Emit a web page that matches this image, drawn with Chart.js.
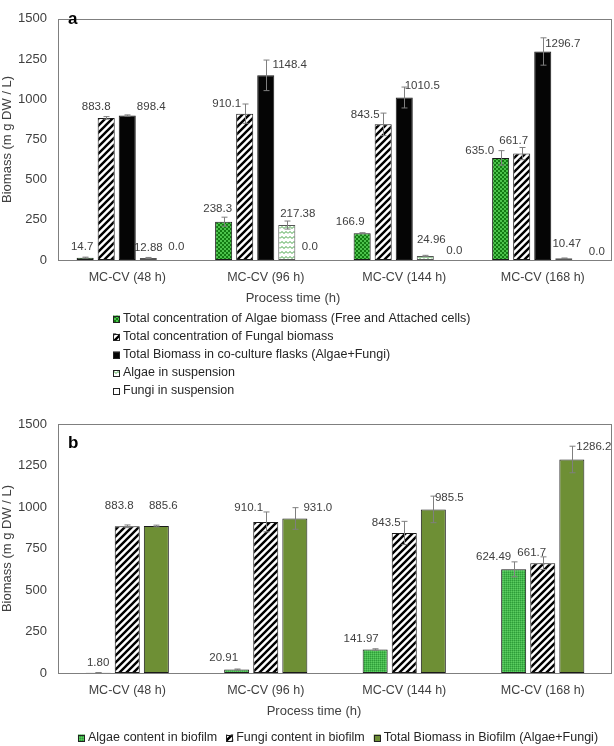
<!DOCTYPE html>
<html><head><meta charset="utf-8">
<script src="https://cdn.jsdelivr.net/npm/chart.js@4/dist/chart.umd.min.js"></script>
<style>
html,body{margin:0;padding:0;background:#fff;}
#wa{position:absolute;left:0;top:0;width:614px;height:400px;}
#wb{position:absolute;left:0;top:400px;width:614px;height:346px;}
canvas{display:block;}
</style></head><body>
<div id="wa"><canvas id="ca" width="614" height="400"></canvas></div>
<div id="wb"><canvas id="cb" width="614" height="346"></canvas></div>
<script>
// ---------- DATA ----------
const categories = ['MC-CV (48 h)', 'MC-CV (96 h)', 'MC-CV (144 h)', 'MC-CV (168 h)'];
const yMin = 0, yMax = 1500, yStep = 250;

// Panel a
const algaeTotal      = [14.7, 238.3, 166.9, 635.0];
const algaeTotalErr   = [3, 28, 3, 45];
const fungalTotal     = [883.8, 910.1, 843.5, 661.7];
const fungalTotalErr  = [8, 60, 70, 38];
const coCulture       = [898.4, 1148.4, 1010.5, 1296.7];
const coCultureErr    = [4, 95, 65, 85];
const algaeSusp       = [12.88, 217.38, 24.96, 10.47];
const algaeSuspErr    = [3, 25, 4, 2];
const fungiSusp       = [0, 0, 0, 0];
const fungiSuspErr    = [0, 0, 0, 0];

// Panel b
const algaeBiofilm     = [1.80, 20.91, 141.97, 624.49];
const algaeBiofilmErr  = [1, 3, 4, 45];
const fungiBiofilm     = [883.8, 910.1, 843.5, 661.7];
const fungiBiofilmErr  = [8, 60, 70, 38];
const totalBiofilm     = [885.6, 931.0, 985.5, 1286.2];
const totalBiofilmErr  = [5, 65, 80, 80];

// ---------- STYLE ----------
const FONT = '"Liberation Sans", Arial, sans-serif';
const TXT = '#404040';

function pattern(kind){
  const c = document.createElement('canvas');
  let ctx;
  if(kind==='checker'){
    c.width=4;c.height=4;ctx=c.getContext('2d');
    ctx.fillStyle='#127a12';ctx.fillRect(0,0,4,4);
    ctx.fillStyle='#4cc24c';ctx.fillRect(0,0,2,2);ctx.fillRect(2,2,2,2);
  } else if(kind==='hatch'){
    const s=7;c.width=s;c.height=s;ctx=c.getContext('2d');
    ctx.fillStyle='#fff';ctx.fillRect(0,0,s,s);
    ctx.strokeStyle='#000';ctx.lineWidth=2.4;ctx.beginPath();
    ctx.moveTo(0,s);ctx.lineTo(s,0);
    ctx.moveTo(-1,1);ctx.lineTo(1,-1);
    ctx.moveTo(s-1,s+1);ctx.lineTo(s+1,s-1);
    ctx.stroke();
  } else if(kind==='wave'){
    c.width=8;c.height=5;ctx=c.getContext('2d');
    ctx.fillStyle='#fff';ctx.fillRect(0,0,8,5);
    ctx.strokeStyle='#3f9f3f';ctx.lineWidth=1;ctx.beginPath();
    ctx.moveTo(0,3.5);ctx.lineTo(2,1.5);ctx.lineTo(4,3.5);ctx.lineTo(6,1.5);ctx.lineTo(8,3.5);
    ctx.stroke();
  } else if(kind==='fine'){
    c.width=2;c.height=2;ctx=c.getContext('2d');
    ctx.fillStyle='#45b84c';ctx.fillRect(0,0,2,2);
    ctx.fillStyle='#2f9c3a';ctx.fillRect(0,0,1,1);
    ctx.fillStyle='#5ccc62';ctx.fillRect(1,1,1,1);
  }
  return c.getContext('2d').createPattern(c,'repeat');
}

const extras = {
  id:'extras',
  afterDatasetsDraw(chart, args, o){
    const ctx = chart.ctx, ys = chart.scales.y, ca = chart.chartArea;
    ctx.save();
    ctx.strokeStyle = '#7f7f7f'; ctx.lineWidth = 1;
    ctx.strokeRect(Math.round(ca.left)+0.5, Math.round(ca.top)+0.5,
                   Math.round(ca.right-ca.left)-1, Math.round(ca.bottom-ca.top));
    chart.data.datasets.forEach((ds,i)=>{
      const meta = chart.getDatasetMeta(i), sp = o.series[i];
      meta.data.forEach((bar,j)=>{
        const v = ds.data[j], e = sp.err[j];
        const x = Math.round(bar.x)+0.5;
        if(e>0){
          const yt = ys.getPixelForValue(v+e), yb = ys.getPixelForValue(Math.max(0,v-e));
          ctx.strokeStyle = '#7f7f7f'; ctx.lineWidth = 1;
          ctx.beginPath();
          ctx.moveTo(x,yt);ctx.lineTo(x,yb);
          ctx.moveTo(x-3,yt);ctx.lineTo(x+3,yt);
          ctx.moveTo(x-3,yb);ctx.lineTo(x+3,yb);
          ctx.stroke();
        }
        const top = ys.getPixelForValue(v+e);
        ctx.fillStyle = TXT;
        ctx.font = '11.5px ' + FONT;
        ctx.textAlign = 'center'; ctx.textBaseline = 'middle';
        ctx.fillText(v.toFixed(sp.dec), bar.x + sp.dx[j], top - sp.dy[j]);
      });
    });
    ctx.restore();
  },
  afterDraw(chart, args, o){
    const ctx = chart.ctx;
    ctx.save();
    // panel letter
    ctx.fillStyle = '#000'; ctx.font = 'bold 17px ' + FONT;
    ctx.textAlign = 'left'; ctx.textBaseline = 'middle';
    ctx.fillText(o.letter.text, o.letter.x, o.letter.y);
    // x-axis title
    ctx.fillStyle = TXT; ctx.font = '13px ' + FONT; ctx.textAlign = 'center';
    ctx.fillText(o.xTitle.text, o.xTitle.x, o.xTitle.y);
    // legend
    ctx.textAlign = 'left';
    const L = o.legend;
    ctx.font = L.size + 'px ' + FONT;
    const items = chart.data.datasets.map(d=>({label:d.label, bg:d.backgroundColor}));
    const box = 7, gapT = 3;
    const drawItem = (x,y,it)=>{
      ctx.fillStyle = it.bg; ctx.fillRect(x, y-box/2, box, box);
      ctx.strokeStyle = '#222'; ctx.lineWidth = 1;
      ctx.strokeRect(Math.round(x)+0.5, Math.round(y-box/2)+0.5, box-1, box-1);
      ctx.fillStyle = '#262626';
      ctx.fillText(it.label, x+box+gapT, y);
    };
    if(L.mode==='column'){
      items.forEach((it,i)=>drawItem(L.x, L.y + i*L.step, it));
    } else {
      const widths = items.map(it=>box+gapT+ctx.measureText(it.label).width);
      const total = widths.reduce((a,b)=>a+b,0) + L.gap*(items.length-1);
      let x = L.cx - total/2;
      items.forEach((it,i)=>{ drawItem(x, L.y, it); x += widths[i] + L.gap; });
    }
    ctx.restore();
  }
};

function baseOptions(cfg){
  return {
    responsive:false, animation:false, devicePixelRatio:1,
    layout:{padding:{top:cfg.padTop, left:0, right:2, bottom:cfg.padBottom}},
    plugins:{legend:{display:false}, tooltip:{enabled:false}, extras:cfg.extras},
    scales:{
      x:{
        grid:{display:false, drawTicks:false}, border:{display:false},
        ticks:{font:{family:FONT, size:12.5}, color:TXT, padding:10, maxRotation:0, autoSkip:false},
        title:{display:false},
        afterFit(s){ s.height = 45; }
      },
      y:{
        min:yMin, max:yMax,
        grid:{display:false, drawTicks:false}, border:{display:false},
        ticks:{stepSize:yStep, font:{family:FONT, size:13}, color:TXT, padding:11, callback:(v)=>String(v)},
        title:{display:true, text:'Biomass (m g DW / L)', font:{family:FONT, size:13}, color:TXT, padding:{top:0,bottom:0}},
        afterFit(s){ s.width = 58; }
      }
    }
  };
}

// ---------- Chart a ----------
const optsA = baseOptions({
  padTop:7, padBottom:95,
  extras:{
    letter:{text:'a', x:68, y:19},
    xTitle:{text:'Process time (h)', x:293, y:298},
    legend:{mode:'column', x:113, y:319, step:18, size:12.5},
    series:[
      {err:algaeTotalErr, dec:1, dx:[-3,-6,-12,-21], dy:[10,8,11,0]},
      {err:fungalTotalErr, dec:1, dx:[-10,-18,-18,-8], dy:[10,0,-2,7]},
      {err:coCultureErr,  dec:1, dx:[24,24,18,20],   dy:[8,-5,1,-6]},
      {err:algaeSuspErr,  dec:2, dx:[0,11,6,3],      dy:[10,7,16,14]},
      {err:fungiSuspErr,  dec:1, dx:[7,2,8,12],      dy:[13,13,9,8]}
    ]
  }
});
new Chart(document.getElementById('ca'), {
  type:'bar',
  data:{
    labels:categories,
    datasets:[
      {label:'Total concentration of Algae biomass (Free and Attached cells)', data:algaeTotal, backgroundColor:pattern('checker'), borderColor:'#1a1a1a', borderWidth:1, borderSkipped:false, categoryPercentage:0.76, barPercentage:0.81},
      {label:'Total concentration of Fungal biomass', data:fungalTotal, backgroundColor:pattern('hatch'), borderColor:'#1a1a1a', borderWidth:1, borderSkipped:false, categoryPercentage:0.76, barPercentage:0.81},
      {label:'Total Biomass in co-culture flasks (Algae+Fungi)', data:coCulture, backgroundColor:'#050505', borderColor:'#1a1a1a', borderWidth:1, borderSkipped:false, categoryPercentage:0.76, barPercentage:0.81},
      {label:'Algae in suspension', data:algaeSusp, backgroundColor:pattern('wave'), borderColor:'#555', borderWidth:1, borderSkipped:false, categoryPercentage:0.76, barPercentage:0.81},
      {label:'Fungi in suspension', data:fungiSusp, backgroundColor:'#ffffff', borderColor:'#555', borderWidth:1, borderSkipped:false, categoryPercentage:0.76, barPercentage:0.81}
    ]
  },
  options:optsA,
  plugins:[extras]
});

// ---------- Chart b ----------
const optsB = baseOptions({
  padTop:24, padBottom:28,
  extras:{
    letter:{text:'b', x:68, y:43},
    xTitle:{text:'Process time (h)', x:314, y:311},
    legend:{mode:'row', cx:338, y:338, gap:9, size:12.5},
    series:[
      {err:algaeBiofilmErr, dec:2, dx:[0,-13,-14,-20], dy:[10,11,10,5]},
      {err:fungiBiofilmErr, dec:1, dx:[-8,-17,-18,-11], dy:[19,4,-1,4]},
      {err:totalBiofilmErr, dec:1, dx:[7,23,16,22],    dy:[19,0,-2,-1]}
    ]
  }
});
new Chart(document.getElementById('cb'), {
  type:'bar',
  data:{
    labels:categories,
    datasets:[
      {label:'Algae content in biofilm', data:algaeBiofilm, backgroundColor:pattern('fine'), borderColor:'#1a1a1a', borderWidth:1, borderSkipped:false, categoryPercentage:0.63, barPercentage:0.86},
      {label:'Fungi content in biofilm', data:fungiBiofilm, backgroundColor:pattern('hatch'), borderColor:'#1a1a1a', borderWidth:1, borderSkipped:false, categoryPercentage:0.63, barPercentage:0.86},
      {label:'Total Biomass in Biofilm (Algae+Fungi)', data:totalBiofilm, backgroundColor:'#6e8f35', borderColor:'#1a1a1a', borderWidth:1, borderSkipped:false, categoryPercentage:0.63, barPercentage:0.86}
    ]
  },
  options:optsB,
  plugins:[extras]
});
</script>
</body></html>
